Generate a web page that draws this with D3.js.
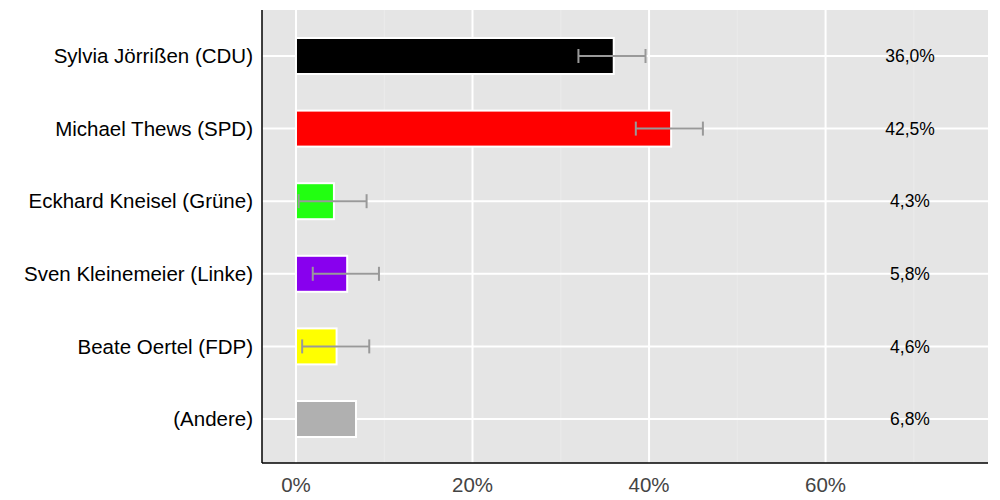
<!DOCTYPE html><html><head><meta charset="utf-8"><script src="https://cdn.jsdelivr.net/npm/d3@7"></script>
<style>body{margin:0;background:#fff}</style></head><body><svg id="c" width="1000" height="500"></svg><script>
const categories=["Sylvia Jörrißen (CDU)","Michael Thews (SPD)","Eckhard Kneisel (Grüne)","Sven Kleinemeier (Linke)","Beate Oertel (FDP)","(Andere)"];
const values=[36.0,42.5,4.3,5.8,4.6,6.8];
const errLow=[32.0,38.5,0.3,1.9,0.7,null];
const errHigh=[39.6,46.1,8.0,9.4,8.3,null];
const colors=["#000000","#ff0000","#22ff11","#8800ee","#ffff00","#b0b0b0"];
const valueLabels=["36,0%","42,5%","4,3%","5,8%","4,6%","6,8%"];
const ticks=[0,20,40,60];
const svg=d3.select("#c");
const L=262,R=988,T=10,B=463;
const x=d3.scaleLinear().domain([-3.85,78.4]).range([L,R]);
const yc=d3.scalePoint().domain(categories).range([56,419]);
const bh=36;
const font="Liberation Sans, Arial, sans-serif";
svg.append("rect").attr("x",L).attr("y",T).attr("width",R-L).attr("height",B-T).attr("fill","#e5e5e5");
[10,30,50,70].forEach(v=>svg.append("line").attr("x1",x(v)).attr("x2",x(v)).attr("y1",T).attr("y2",B).attr("stroke","#ebebeb").attr("stroke-width",1));
ticks.forEach(v=>svg.append("line").attr("x1",x(v)).attr("x2",x(v)).attr("y1",T).attr("y2",B).attr("stroke","#fff").attr("stroke-width",2));
categories.forEach(c=>svg.append("line").attr("x1",L).attr("x2",R).attr("y1",yc(c)).attr("y2",yc(c)).attr("stroke","#fff").attr("stroke-width",2));
svg.selectAll(".bar").data(values).join("rect").attr("x",x(0)).attr("y",(d,i)=>yc(categories[i])-bh/2).attr("width",d=>x(d)-x(0)).attr("height",bh).attr("fill",(d,i)=>colors[i]).attr("stroke","#fff").attr("stroke-width",2);
categories.forEach((c,i)=>{if(errLow[i]==null)return;const cy=yc(c);const g=svg.append("g").attr("stroke","#999").attr("stroke-width",2);
g.append("line").attr("x1",x(errLow[i])).attr("x2",x(errHigh[i])).attr("y1",cy).attr("y2",cy);
[errLow[i],errHigh[i]].forEach(v=>g.append("line").attr("x1",x(v)).attr("x2",x(v)).attr("y1",cy-7).attr("y2",cy+7));});
categories.forEach((c,i)=>svg.append("text").attr("x",910).attr("y",yc(c)).attr("dy","0.35em").attr("text-anchor","middle").attr("font-family",font).attr("font-size",17.5).text(valueLabels[i]));
categories.forEach(c=>svg.append("text").attr("x",253).attr("y",yc(c)).attr("dy","0.35em").attr("text-anchor","end").attr("font-family",font).attr("font-size",20.5).text(c));
svg.append("line").attr("x1",L).attr("x2",L).attr("y1",T).attr("y2",B).attr("stroke","#000").attr("stroke-width",1.5);
svg.append("line").attr("x1",L).attr("x2",R).attr("y1",B).attr("y2",B).attr("stroke","#000").attr("stroke-width",1.5);
ticks.forEach(v=>svg.append("text").attr("x",x(v)).attr("y",492).attr("text-anchor","middle").attr("font-family",font).attr("font-size",20.5).attr("fill","#444").text(v+"%"));
</script></body></html>
